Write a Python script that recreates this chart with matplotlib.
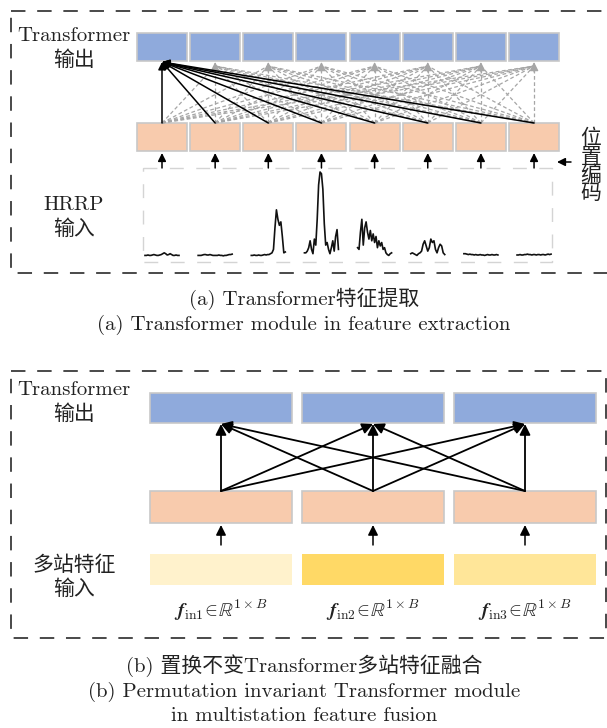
import matplotlib
matplotlib.use("Agg")
import matplotlib.pyplot as plt
from matplotlib.patches import Rectangle

plt.rcParams['font.family'] = ['cmr10', 'Noto Sans CJK SC', 'DejaVu Sans']
plt.rcParams['mathtext.fontset'] = 'cm'
plt.rcParams['axes.unicode_minus'] = False

# ---- text content ----
label_out = ["Transformer", "输出"]
label_hrrp = ["HRRP", "输入"]
label_pos = "位\n置\n编\n码"
caption_a = ["(a) Transformer特征提取", "(a) Transformer module in feature extraction"]
label_multi = ["多站特征", "输入"]
caption_b = ["(b) 置换不变Transformer多站特征融合",
             "(b) Permutation invariant Transformer module",
             "in multistation feature fusion"]
station_labels = [r"$\mathbfit{f}_{\mathrm{in1}}\!\in\!\mathbb{R}^{1\times B}$",
                  r"$\mathbfit{f}_{\mathrm{in2}}\!\in\!\mathbb{R}^{1\times B}$",
                  r"$\mathbfit{f}_{\mathrm{in3}}\!\in\!\mathbb{R}^{1\times B}$"]
station_colors = ["#FFF2CC", "#FFD966", "#FFE699"]

# ---- HRRP segments (normalised amplitude per range cell) ----
hrrp_1 = [0.03, 0.03, 0.035, 0.03, 0.03, 0.035, 0.04, 0.035, 0.03, 0.03, 0.035, 0.04,
          0.05, 0.06, 0.05, 0.035, 0.04, 0.05, 0.04, 0.03, 0.03, 0.035, 0.03, 0.03]
hrrp_2 = [0.03, 0.03, 0.03, 0.035, 0.04, 0.04, 0.035, 0.035, 0.04, 0.035, 0.03, 0.03,
          0.03, 0.03, 0.035, 0.03, 0.03, 0.025, 0.03, 0.03, 0.035, 0.04, 0.04, 0.045]
hrrp_3 = [0.03, 0.03, 0.035, 0.03, 0.03, 0.035, 0.03, 0.03, 0.035, 0.04, 0.035, 0.04,
          0.04, 0.05, 0.06, 0.10, 0.35, 0.56, 0.45, 0.38, 0.42, 0.25, 0.06, 0.07]
hrrp_4 = [0.06, 0.06, 0.08, 0.12, 0.20, 0.10, 0.05, 0.22, 0.15, 0.45, 0.85, 1.00,
          0.98, 0.80, 0.40, 0.15, 0.18, 0.10, 0.05, 0.12, 0.20, 0.08, 0.25, 0.33, 0.10]
hrrp_5 = [0.12, 0.10, 0.30, 0.45, 0.15, 0.35, 0.42, 0.30, 0.22, 0.32, 0.20, 0.28,
          0.18, 0.25, 0.12, 0.20, 0.14, 0.18, 0.10, 0.12, 0.06, 0.04, 0.03, 0.05, 0.06]
hrrp_6 = [0.05, 0.06, 0.05, 0.04, 0.03, 0.05, 0.06, 0.08, 0.16, 0.20, 0.14, 0.08,
          0.12, 0.22, 0.18, 0.20, 0.10, 0.06, 0.12, 0.16, 0.14, 0.06, 0.04]
hrrp_7 = [0.05, 0.05, 0.045, 0.04, 0.045, 0.04, 0.04, 0.035, 0.04, 0.035, 0.035, 0.04,
          0.035, 0.035, 0.03, 0.035, 0.04, 0.035, 0.035, 0.04, 0.035, 0.035, 0.04, 0.035]
hrrp_8 = [0.035, 0.035, 0.04, 0.035, 0.035, 0.04, 0.04, 0.045, 0.04, 0.04, 0.035, 0.04,
          0.04, 0.035, 0.04, 0.04, 0.035, 0.04, 0.04, 0.035, 0.04, 0.045, 0.04, 0.045]
hrrp_segments = [hrrp_1, hrrp_2, hrrp_3, hrrp_4, hrrp_5, hrrp_6, hrrp_7, hrrp_8]

BLUE = "#8FAADC"
ORANGE = "#F8CBAD"
EDGE = "#C8C8C8"
FRAME = "#3A3A3A"
GREY = "#A6A6A6"

fig = plt.figure(figsize=(6.07, 7.28), dpi=100)
ax = fig.add_axes([0, 0, 1, 1])
ax.set_xlim(0, 607)
ax.set_ylim(728, 0)
ax.axis('off')


def box(x0, y0, x1, y1, fc, ec=EDGE, lw=1.2):
    ax.add_patch(Rectangle((x0, y0), x1 - x0, y1 - y0, fc=fc, ec=ec, lw=lw, zorder=2))


def frame(x0, y0, x1, y1, color=FRAME, lw=1.3, dash=(8, 6.5), z=1):
    ax.plot([x0, x1, x1, x0, x0], [y0, y0, y1, y1, y0], color=color, lw=lw,
            linestyle=(0, dash), zorder=z, clip_on=False)


def arrow(x0, y0, x1, y1, color='black', lw=1.1, ms=11):
    ax.annotate('', xy=(x1, y1), xytext=(x0, y0),
                arrowprops=dict(arrowstyle='-|>', color=color, lw=lw,
                                mutation_scale=ms, shrinkA=0, shrinkB=0), zorder=4)


txt_kw = dict(ha='center', va='center', fontsize=15, color='#222222')

# ================= (a) feature extraction =================
frame(11, 11, 640, 273)

n = len(hrrp_segments)
bx0, bstep, bw = 137, 53.15, 50
centers = [bx0 + i * bstep + bw / 2 for i in range(n)]
for c in centers:
    box(c - bw / 2, 33, c + bw / 2, 61, BLUE)
    box(c - bw / 2, 123, c + bw / 2, 151, ORANGE)

# attention links: grey dashed to every output, black solid into the first
for j, cj in enumerate(centers):
    if j == 0:
        continue
    for ci in centers:
        ax.plot([ci, cj], [123, 66], color=GREY, lw=0.9, ls=(0, (3, 2)), zorder=3)
    arrow(cj, 72, cj, 62, color=GREY, lw=0.9, ms=13)
for ci in centers:
    arrow(ci, 123, centers[0], 62, color='black', lw=1.1, ms=11)

# input arrows
for c in centers:
    arrow(c, 168, c, 153, ms=12)

# positional encoding
arrow(571, 162, 557, 162, ms=12)
ax.text(591, 166, label_pos, ha='center', va='center', fontsize=15,
        color='#222222', linespacing=0.95)

# HRRP segments
frame(143, 168, 552, 262, color="#D4D4D4", lw=1.0, dash=(10, 9), z=1)
for c, seg in zip(centers, hrrp_segments):
    xs = [c - 17 + 34 * k / (len(seg) - 1) for k in range(len(seg))]
    ys = [258 - 86 * v for v in seg]
    ax.plot(xs, ys, color='#111111', lw=1.2, zorder=3)

ax.text(74, 36, label_out[0], **txt_kw)
ax.text(74, 60, label_out[1], **txt_kw)
ax.text(74, 205, label_hrrp[0], **txt_kw)
ax.text(74, 229, label_hrrp[1], **txt_kw)

ax.text(304, 299, caption_a[0], **txt_kw)
ax.text(304, 325, caption_a[1], **txt_kw)

# ================= (b) multistation fusion =================
frame(11, 371, 606, 638)

m = len(station_labels)
sx0, sstep, sw = 150, 152, 142
scenters = [sx0 + i * sstep + sw / 2 for i in range(m)]
for c, col in zip(scenters, station_colors):
    box(c - sw / 2, 393, c + sw / 2, 423, BLUE)
    box(c - sw / 2, 491, c + sw / 2, 523, ORANGE)
    ax.add_patch(Rectangle((c - sw / 2, 554), sw, 31, fc=col, ec='none', zorder=2))
    arrow(c, 545, c, 525, ms=15)

for ci in scenters:
    for cj in scenters:
        arrow(ci, 491, cj, 424, lw=1.3, ms=16)

for c, lab in zip(scenters, station_labels):
    ax.text(c, 610, lab, ha='center', va='center', fontsize=14, color='#222222')

ax.text(74, 390, label_out[0], **txt_kw)
ax.text(74, 414, label_out[1], **txt_kw)
ax.text(74, 565, label_multi[0], **txt_kw)
ax.text(74, 589, label_multi[1], **txt_kw)

ax.text(304, 666, caption_b[0], **txt_kw)
ax.text(304, 692, caption_b[1], **txt_kw)
ax.text(304, 716, caption_b[2], **txt_kw)

fig.savefig("out.png", dpi=100)
